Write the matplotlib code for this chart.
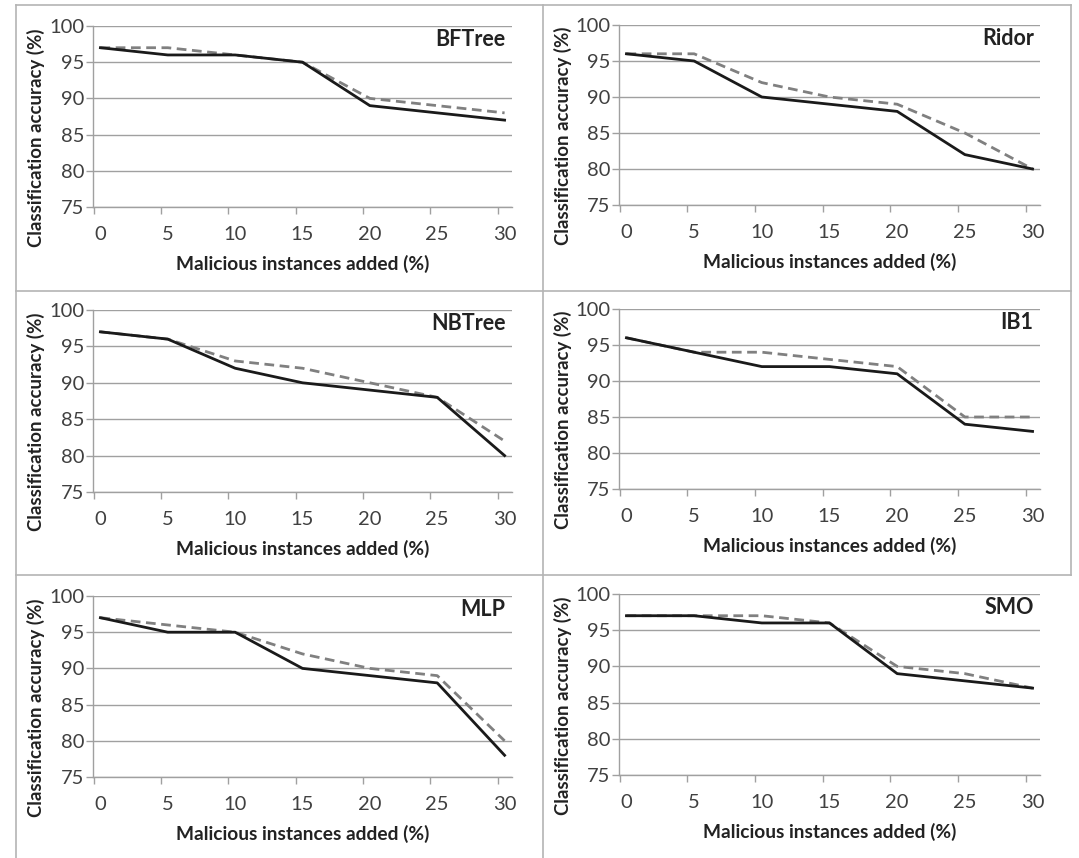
import matplotlib
matplotlib.use("Agg")
import matplotlib.pyplot as plt
from matplotlib.lines import Line2D

plt.rcParams['font.family'] = ['Lato', 'DejaVu Sans']

x_values = [0, 5, 10, 15, 20, 25, 30]
x_labels = ["0", "5", "10", "15", "20", "25", "30"]
y_ticks = [75, 80, 85, 90, 95, 100]

titles = ["BFTree", "Ridor", "NBTree", "IB1", "MLP", "SMO"]
solid_bftree = [97, 96, 96, 95, 89, 88, 87]
dashed_bftree = [97, 97, 96, 95, 90, 89, 88]
solid_ridor = [96, 95, 90, 89, 88, 82, 80]
dashed_ridor = [96, 96, 92, 90, 89, 85, 80]
solid_nbtree = [97, 96, 92, 90, 89, 88, 80]
dashed_nbtree = [97, 96, 93, 92, 90, 88, 82]
solid_ib1 = [96, 94, 92, 92, 91, 84, 83]
dashed_ib1 = [96, 94, 94, 93, 92, 85, 85]
solid_mlp = [97, 95, 95, 90, 89, 88, 78]
dashed_mlp = [97, 96, 95, 92, 90, 89, 80]
solid_smo = [97, 97, 96, 96, 89, 88, 87]
dashed_smo = [97, 97, 97, 96, 90, 89, 87]

solids = [solid_bftree, solid_ridor, solid_nbtree, solid_ib1, solid_mlp, solid_smo]
dasheds = [dashed_bftree, dashed_ridor, dashed_nbtree, dashed_ib1, dashed_mlp, dashed_smo]

W, H = 1079, 858
fig = plt.figure(figsize=(W / 100, H / 100), dpi=100)

# axes boxes in pixels: left, top, right, bottom
boxes = [
    (93, 26, 512, 207),
    (619, 25, 1040, 205),
    (93, 310, 512, 492),
    (619, 309, 1040, 489),
    (93, 596, 512, 777),
    (619, 594, 1040, 775),
]
# y-label centre x in pixels per panel
ylab_x = [36, 563, 36, 563, 36, 563]

grid_col = "#a0a0a0"
text_col = "#404040"

for i, (l, t, r, b) in enumerate(boxes):
    ax = fig.add_axes([l / W, 1 - b / H, (r - l) / W, (b - t) / H])
    xs = x_values
    ax.plot(xs, dasheds[i], color="#808080", lw=2.0, dashes=(3.5, 2), zorder=3)
    ax.plot(xs, solids[i], color="#1a1a1a", lw=2.0, zorder=4)
    ax.set_xlim(-0.55, 30.55)
    ax.set_ylim(75, 100)
    ax.set_yticks(y_ticks)
    ax.set_yticklabels([str(v) for v in y_ticks])
    ax.set_xticks(xs)
    ax.set_xticklabels(x_labels)
    ax.set_xticks([v - 0.5 for v in xs], minor=True)
    ax.tick_params(axis='x', which='major', length=0, pad=14, labelsize=14.5, labelcolor=text_col)
    ax.tick_params(axis='x', which='minor', length=5, color=grid_col, width=1)
    ax.tick_params(axis='y', which='major', length=5, color=grid_col, width=1, labelsize=14.5,
                   labelcolor=text_col, pad=1)
    ax.grid(axis='y', color=grid_col, lw=1)
    ax.set_axisbelow(True)
    for s in ['top', 'right']:
        ax.spines[s].set_visible(False)
    for s in ['left', 'bottom']:
        ax.spines[s].set_color(grid_col)
        ax.spines[s].set_linewidth(1)
    ax.set_xlabel("Malicious instances added (%)", fontsize=13.8, fontweight='bold',
                  color="#222222", labelpad=8)
    ax.set_ylabel("Classification accuracy (%)", fontsize=13.4, fontweight='bold',
                  color="#222222", va='center')
    ax.yaxis.set_label_coords((ylab_x[i] - l) / (r - l), 0.385)
    ax.text(0.985, 0.925, titles[i], transform=ax.transAxes, ha='right', va='center',
            fontsize=15.5, fontweight='bold', color="#222222")

# panel borders
bcol = "#b4b4b4"
def vline(xp, y0, y1):
    fig.add_artist(Line2D([xp / W, xp / W], [1 - y0 / H, 1 - y1 / H], color=bcol, lw=1.2))
def hline(yp, x0, x1):
    fig.add_artist(Line2D([x0 / W, x1 / W], [1 - yp / H, 1 - yp / H], color=bcol, lw=1.2))

vline(16, 5, 858)
vline(543, 5, 858)
vline(1071, 5, 575)
hline(5, 16, 1071)
hline(291, 16, 1071)
hline(575, 16, 1071)

fig.savefig("out.png", dpi=100, facecolor="white")
